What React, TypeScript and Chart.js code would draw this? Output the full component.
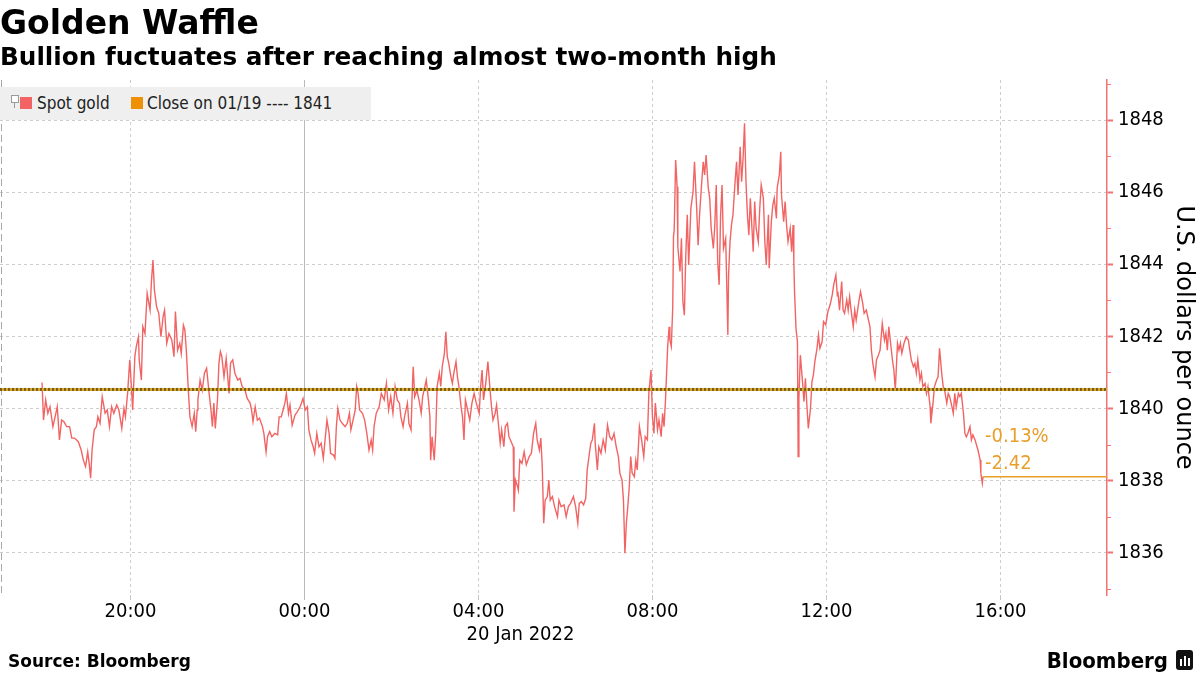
import React, { useEffect, useRef } from 'react';
import { Chart, registerables } from 'chart.js';

Chart.register(...registerables);

const FONT = '"DejaVu Sans Condensed", "DejaVu Sans", sans-serif';

const titleText = 'Golden Waffle';
const subtitleText = 'Bullion fuctuates after reaching almost two-month high';
const sourceText = 'Source: Bloomberg';
const brandText = 'Bloomberg';
const seriesName = 'Spot gold';
const closeDate = '01/19';
const closeValue = 1840.53;
const changeLabels = ['-0.13%', '-2.42'];

// x values: minutes relative to 00:00 on 20 Jan 2022
const xRange = [-420, 1107];
const xTickMinutes = [-240, 0, 240, 480, 720, 960];
const xTickLabels = ['20:00', '00:00', '04:00', '08:00', '12:00', '16:00'];
const dateLabel = '20 Jan 2022';
const dateLabelMinute = 298;

const yRange = [1834.83, 1849.11];
const yTicks = [1836, 1838, 1840, 1842, 1844, 1846, 1848];
const yMinorTicks = [1835, 1837, 1839, 1841, 1843, 1845, 1847, 1849];
const yAxisTitle = 'U.S. dollars per ounce';

// [minute, price]
const spotGold: [number, number][] = [
  [-362, 1840.72], [-360, 1839.68], [-357, 1840.24], [-354, 1839.87], [-351, 1840.05], [-347, 1839.5], [-344, 1839.77], [-341, 1840.05], [-338, 1839.13], [-335, 1839.68],
  [-332, 1839.64], [-328, 1839.5], [-324, 1839.5], [-321, 1839.18], [-317, 1839.18], [-312, 1839.08], [-308, 1838.85], [-305, 1838.57], [-302, 1838.39], [-299, 1838.8],
  [-297, 1838.48], [-295, 1838.07], [-293, 1838.85], [-290, 1839.41], [-287, 1839.5], [-285, 1839.77], [-282, 1839.59], [-279, 1840.33], [-275, 1839.87], [-272, 1839.96],
  [-269, 1839.5], [-266, 1840.05], [-263, 1839.87], [-259, 1840.1], [-256, 1839.96], [-252, 1839.45], [-249, 1840.0], [-247, 1839.77], [-244, 1840.42], [-241, 1841.35],
  [-239, 1840.7], [-237, 1839.96], [-234, 1841.44], [-232, 1841.72], [-229, 1841.99], [-228, 1841.35], [-225, 1840.79], [-223, 1842.27], [-220, 1842.08], [-217, 1843.19],
  [-213, 1842.73], [-211, 1843.56], [-209, 1844.12], [-207, 1843.29], [-204, 1842.82], [-201, 1842.64], [-198, 1841.99], [-195, 1842.55], [-193, 1842.73], [-190, 1841.81],
  [-187, 1842.08], [-183, 1841.9], [-180, 1841.44], [-178, 1842.69], [-175, 1841.62], [-172, 1841.81], [-170, 1841.53], [-167, 1842.31], [-165, 1842.18], [-163, 1841.62],
  [-160, 1840.42], [-158, 1839.77], [-155, 1839.5], [-152, 1839.87], [-150, 1839.36], [-148, 1839.96],
  [-147, 1840.24], [-144, 1840.79], [-141, 1840.51], [-138, 1840.98], [-135, 1841.12], [-132, 1840.51], [-129, 1839.96], [-127, 1839.5], [-125, 1840.15], [-123, 1839.45],
  [-120, 1840.24], [-118, 1841.26], [-116, 1841.58], [-114, 1841.44], [-111, 1840.88], [-108, 1841.39], [-104, 1840.42], [-102, 1841.26], [-99, 1841.35], [-96, 1840.98],
  [-92, 1840.79], [-89, 1840.84], [-86, 1840.61], [-82, 1840.51], [-79, 1840.28], [-75, 1840.15], [-73, 1839.96], [-71, 1839.64], [-68, 1840.05], [-65, 1839.68],
  [-62, 1839.73], [-58, 1839.5], [-56, 1839.31], [-53, 1838.8], [-51, 1839.22], [-48, 1839.36], [-45, 1839.22], [-41, 1839.31], [-37, 1839.27], [-35, 1839.77],
  [-32, 1839.77], [-29, 1840.0], [-27, 1840.15], [-25, 1840.42], [-22, 1839.87], [-20, 1840.1], [-17, 1839.54], [-13, 1839.82], [-10, 1839.91], [-6, 1840.05],
  [-2, 1840.28], [1, 1839.96], [4, 1840.05], [6, 1839.41], [9, 1839.13], [12, 1838.94], [14, 1838.76], [17, 1839.31], [20, 1838.94], [23, 1839.04],
  [26, 1838.62], [28, 1839.04], [31, 1839.68], [34, 1839.31], [36, 1838.76], [40, 1838.71], [42, 1838.62], [44, 1839.5], [46, 1840.0], [49, 1839.68],
  [52, 1839.59], [56, 1839.5], [59, 1839.59], [62, 1839.87], [64, 1839.41], [67, 1839.68], [70, 1839.96], [72, 1840.61], [74, 1840.42],
  [76, 1839.96], [80, 1839.87], [83, 1839.68], [86, 1839.31], [89, 1838.85], [92, 1839.13], [94, 1838.85], [96, 1839.5], [99, 1839.87], [103, 1840.05],
  [106, 1840.42], [110, 1840.24], [113, 1840.7], [116, 1839.96], [119, 1840.33], [122, 1839.87], [125, 1840.61], [128, 1840.24], [131, 1840.15], [133, 1839.77],
  [136, 1839.5], [138, 1839.77], [142, 1840.15], [144, 1839.59], [147, 1839.41], [149, 1840.7], [150, 1841.16], [152, 1840.33], [155, 1840.51], [158, 1840.24],
  [161, 1839.87], [163, 1840.33], [166, 1840.61], [168, 1840.79], [171, 1840.24], [173, 1839.77], [174, 1838.57], [176, 1839.22], [179, 1838.57], [181, 1839.31],
  [183, 1840.61], [186, 1840.98], [188, 1840.61], [190, 1841.16], [193, 1841.53], [195, 1842.13], [197, 1841.44], [199, 1841.26], [202, 1840.88], [204, 1840.7],
  [206, 1840.98], [209, 1841.3], [211, 1840.88], [213, 1840.61], [216, 1840.05], [218, 1839.77], [220, 1839.13], [222, 1840.24], [225, 1839.96], [228, 1839.68],
  [231, 1840.15], [234, 1840.42], [237, 1840.15], [241, 1839.87], [243, 1840.61], [245, 1841.07], [247, 1840.24], [250, 1840.7], [253, 1841.3], [256, 1840.51],
  [258, 1840.05], [260, 1839.68], [263, 1839.87], [265, 1840.1], [267, 1839.68], [270, 1839.04], [272, 1839.41], [275, 1838.94], [277, 1839.5], [280, 1839.59],
  [282, 1839.22], [286, 1839.04], [288, 1838.94], [289, 1837.14], [291, 1838.02], [294, 1837.83],
  [295, 1837.74], [297, 1838.57], [300, 1838.48], [303, 1838.8], [306, 1838.44], [310, 1838.67], [313, 1838.76], [316, 1839.31], [319, 1839.59], [321, 1839.13],
  [324, 1838.85], [326, 1839.18], [328, 1838.39], [330, 1836.82], [332, 1837.46], [335, 1837.56], [337, 1838.02], [339, 1837.46], [342, 1837.56], [345, 1837.28],
  [349, 1837.0], [351, 1837.46], [354, 1837.28], [358, 1837.33], [361, 1837.0], [364, 1837.28], [367, 1837.37], [371, 1837.56], [374, 1837.28], [377, 1836.82],
  [379, 1837.37], [382, 1837.42], [385, 1837.33], [388, 1837.51], [390, 1838.3], [393, 1838.76], [395, 1839.04], [397, 1839.13], [400, 1839.59], [401, 1839.04],
  [404, 1838.3], [406, 1838.94], [409, 1838.76], [412, 1839.13], [415, 1838.85], [418, 1839.54], [421, 1839.22], [424, 1839.13], [427, 1839.31], [430, 1838.94],
  [433, 1838.67], [435, 1838.21], [438, 1838.02], [440, 1837.46], [442, 1835.99], [444, 1836.82], [446, 1837.28], [448, 1837.83], [450, 1838.67], [452, 1838.21],
  [455, 1838.11], [457, 1838.57], [459, 1838.3], [462, 1839.5], [465, 1839.13], [468, 1838.67], [470, 1839.22], [473, 1839.13], [475, 1840.42], [478, 1841.07],
  [480, 1839.77], [482, 1839.31], [484, 1840.15], [487, 1839.41], [489, 1839.68], [492, 1839.22], [494, 1839.87], [496, 1839.5], [498, 1840.24], [501, 1841.72],
  [503, 1842.27], [504, 1841.9], [506, 1841.72], [508, 1842.82], [509, 1844.76], [510, 1844.95], [512, 1846.89], [514, 1846.15], [515, 1844.49],
  [518, 1843.8], [520, 1844.72], [522, 1842.96], [524, 1842.59], [526, 1844.26], [528, 1845.37], [530, 1843.98], [533, 1845.55], [536, 1846.01], [538, 1846.84],
  [541, 1845.55], [543, 1844.53], [545, 1845.37], [548, 1846.29], [550, 1846.84], [552, 1846.48], [554, 1847.03], [557, 1846.11], [559, 1845.83], [561, 1845.0],
  [564, 1844.44], [566, 1845.09], [568, 1846.2], [570, 1844.07], [572, 1843.43], [574, 1845.37], [576, 1846.2], [578, 1844.44], [581, 1844.72], [583, 1842.96],
  [584, 1842.04], [585, 1843.7], [587, 1844.63], [589, 1845.09], [591, 1845.37], [594, 1846.29], [596, 1846.84], [598, 1845.92], [601, 1847.26], [603, 1846.29],
  [605, 1846.94], [607, 1847.91], [609, 1846.29], [611, 1845.37], [613, 1844.81], [615, 1845.83], [617, 1845.09], [619, 1844.35], [621, 1845.74], [623, 1845.0],
  [626, 1844.63], [628, 1845.55], [630, 1846.2], [633, 1845.83], [635, 1844.63], [637, 1843.98], [640, 1845.37], [641, 1843.89], [644, 1845.18], [646, 1845.64],
  [648, 1845.83], [651, 1845.27], [652, 1846.11], [655, 1846.48], [657, 1847.12], [658, 1845.92], [661, 1845.18], [663, 1845.74], [665, 1845.09], [667, 1844.63],
  [670, 1845.0], [672, 1844.35], [674, 1845.09], [675, 1844.07], [676, 1843.24], [678, 1842.22], [680, 1841.85], [681, 1838.67], [682, 1840.28], [684, 1841.48],
  [687, 1840.74], [689, 1840.19], [691, 1840.84], [693, 1840.1], [695, 1839.45], [698, 1840.0], [700, 1840.74], [702, 1840.93], [704, 1841.3], [707, 1841.67],
  [709, 1842.04], [711, 1841.67], [714, 1841.85], [716, 1842.41], [719, 1842.32], [722, 1842.69], [725, 1842.87], [728, 1843.15], [730, 1843.43], [733, 1843.7],
  [735, 1843.15],
  [736, 1843.19], [738, 1842.73], [741, 1843.52], [743, 1842.73], [745, 1842.64], [748, 1843.01], [750, 1842.73], [752, 1843.1], [754, 1842.73], [757, 1842.27],
  [759, 1842.73], [761, 1842.45], [765, 1843.01], [767, 1843.24], [770, 1842.92], [772, 1842.64], [775, 1842.73], [778, 1842.45], [780, 1842.27], [782, 1841.62],
  [784, 1841.25], [787, 1840.88], [789, 1841.35], [791, 1841.44], [794, 1841.62], [797, 1842.36], [800, 1841.9], [802, 1842.09], [804, 1841.62], [806, 1842.27],
  [809, 1841.72], [811, 1841.35], [813, 1841.07], [815, 1840.51], [818, 1841.81], [820, 1841.62], [822, 1841.81], [824, 1841.53], [827, 1841.81], [830, 1841.99],
  [833, 1841.9], [835, 1841.62], [837, 1841.35], [840, 1841.16], [842, 1841.25], [844, 1840.98], [846, 1841.35], [849, 1840.79], [851, 1840.98], [853, 1840.61],
  [856, 1840.7], [858, 1840.42], [860, 1840.61], [863, 1840.05], [864, 1839.59], [867, 1840.15], [869, 1840.61], [872, 1840.79], [874, 1840.88], [876, 1841.67],
  [879, 1840.98], [881, 1840.61], [883, 1840.51], [886, 1840.15], [888, 1840.42], [890, 1840.33], [892, 1840.15], [895, 1839.87], [897, 1840.42], [899, 1840.05],
  [902, 1840.42], [904, 1840.33], [906, 1840.42], [909, 1839.87], [911, 1839.31], [913, 1839.22], [915, 1839.31], [918, 1839.5], [920, 1839.13], [922, 1839.27],
  [925, 1839.13], [927, 1838.99], [929, 1838.85], [932, 1838.57], [933, 1838.21], [935, 1837.93], [936, 1838.11],
];

const RED = '#f26464';
const AXIS_RED = '#f07272';
const ORANGE = '#e99f2b';

export default function App() {
  const canvasRef = useRef<HTMLCanvasElement>(null);

  useEffect(() => {
    document.body.style.margin = '0';
    const canvas = canvasRef.current;
    if (!canvas) return;
    const last = spotGold[spotGold.length - 1];

    const overlay = {
      id: 'overlay',
      beforeDatasetsDraw(chart: any) {
        const { ctx, chartArea: a, scales } = chart;
        const x = scales.x;
        ctx.save();
        ctx.lineWidth = 1;
        ctx.strokeStyle = '#a8a8a8';
        ctx.setLineDash([7, 4]);
        ctx.beginPath();
        ctx.moveTo(a.left + 1.5, a.top);
        ctx.lineTo(a.left + 1.5, a.bottom);
        ctx.stroke();
        ctx.setLineDash([]);
        ctx.strokeStyle = '#b9b9b9';
        const mx = Math.round(x.getPixelForValue(0)) + 0.5;
        ctx.beginPath();
        ctx.moveTo(mx, a.top);
        ctx.lineTo(mx, a.bottom + 5);
        ctx.stroke();
        ctx.restore();
      },
      afterDatasetsDraw(chart: any) {
        const { ctx, chartArea: a, scales } = chart;
        const x = scales.x;
        const y = scales.y;
        ctx.save();
        const lx = x.getPixelForValue(last[0]);
        const ly = y.getPixelForValue(last[1]);
        ctx.font = `20px ${FONT}`;
        ctx.fillStyle = ORANGE;
        ctx.textAlign = 'left';
        ctx.textBaseline = 'middle';
        ctx.fillText(changeLabels[0], lx + 2, ly - 40);
        ctx.fillText(changeLabels[1], lx + 2, ly - 13);

        ctx.strokeStyle = AXIS_RED;
        ctx.lineWidth = 1;
        ctx.beginPath();
        yMinorTicks.forEach((v) => {
          const py = Math.round(y.getPixelForValue(v)) + 0.5;
          ctx.moveTo(a.right, py);
          ctx.lineTo(a.right + 4, py);
        });
        ctx.stroke();

        ctx.fillStyle = '#000';
        ctx.textAlign = 'center';
        ctx.font = `20px ${FONT}`;
        ctx.fillText(dateLabel, x.getPixelForValue(dateLabelMinute), a.bottom + 40);
        ctx.restore();
      },
    };

    const chart = new Chart(canvas, {
      type: 'line',
      data: {
        datasets: [
          {
            label: 'close-dots',
            data: [
              { x: xRange[0], y: closeValue },
              { x: xRange[1], y: closeValue },
            ],
            borderColor: '#7d5d10',
            borderWidth: 3,
            borderDash: [2, 2],
            pointRadius: 0,
          },
          {
            label: 'close-base',
            data: [
              { x: xRange[0], y: closeValue },
              { x: xRange[1], y: closeValue },
            ],
            borderColor: '#d9a830',
            borderWidth: 3,
            pointRadius: 0,
          },
          {
            label: 'last',
            data: [
              { x: last[0], y: last[1] },
              { x: xRange[1], y: last[1] },
            ],
            borderColor: ORANGE,
            borderWidth: 1.5,
            pointRadius: 0,
          },
          {
            label: seriesName,
            data: spotGold.map(([t, v]) => ({ x: t, y: v })),
            borderColor: RED,
            borderWidth: 1.4,
            pointRadius: 0,
            tension: 0,
          },
        ],
      },
      options: {
        animation: false,
        responsive: false,
        devicePixelRatio: 1,
        layout: { padding: { top: 80, bottom: 50, left: 0, right: 0 } },
        plugins: {
          legend: { display: false },
          tooltip: { enabled: false },
        },
        scales: {
          x: {
            type: 'linear',
            min: xRange[0],
            max: xRange[1],
            afterBuildTicks: (scale: any) => {
              scale.ticks = xTickMinutes.map((v) => ({ value: v }));
            },
            afterFit: (scale: any) => {
              scale.height = 30;
            },
            ticks: {
              autoSkip: false,
              maxRotation: 0,
              padding: 0,
              color: '#000',
              font: { family: FONT, size: 20 },
              callback: (value: any) => {
                const i = xTickMinutes.indexOf(Number(value));
                return i >= 0 ? xTickLabels[i] : '';
              },
            },
            grid: {
              color: '#cdcdcd',
              lineWidth: 1,
              tickLength: 5,
              tickColor: '#c4c4c4',
            },
            border: { display: false, dash: [3, 3] },
          },
          y: {
            type: 'linear',
            position: 'right',
            min: yRange[0],
            max: yRange[1],
            afterBuildTicks: (scale: any) => {
              scale.ticks = yTicks.map((v) => ({ value: v }));
            },
            afterFit: (scale: any) => {
              scale.width = 93;
            },
            ticks: {
              padding: 5,
              color: '#000',
              font: { family: FONT, size: 20 },
              callback: (value: any) => String(value),
            },
            grid: {
              color: '#cdcdcd',
              lineWidth: 1,
              tickLength: 6,
              tickWidth: 2,
              tickColor: AXIS_RED,
              tickBorderDash: [],
            },
            border: { display: true, color: AXIS_RED, width: 1.5, dash: [3, 3] },
            title: {
              display: true,
              text: yAxisTitle,
              color: '#000',
              font: { family: '"DejaVu Sans", sans-serif', size: 24 },
              padding: { top: 2, bottom: 0 },
            },
          },
        },
      },
      plugins: [overlay],
    } as any);

    return () => chart.destroy();
  }, []);

  const legendFont = `17px ${FONT}`;

  return (
    <div style={{ position: 'relative', width: 1200, height: 675, overflow: 'hidden', background: '#fff' }}>
      <canvas ref={canvasRef} width={1200} height={675} style={{ position: 'absolute', left: 0, top: 0 }} />
      <div
        style={{
          position: 'absolute', left: 0, top: 6, font: `bold 33px "DejaVu Sans", sans-serif`,
          lineHeight: 1, whiteSpace: 'nowrap', color: '#000',
        }}
      >
        {titleText}
      </div>
      <div
        style={{
          position: 'absolute', left: 0, top: 45, font: `bold 24.7px "DejaVu Sans", sans-serif`,
          lineHeight: 1, whiteSpace: 'nowrap', color: '#000',
        }}
      >
        {subtitleText}
      </div>
      <div style={{ position: 'absolute', left: 0, top: 87, width: 371, height: 33, background: '#efefef' }}>
        <div style={{ position: 'absolute', left: 11, top: 8, width: 6, height: 6, border: '1px solid #9a9a9a', background: '#fff' }} />
        <div style={{ position: 'absolute', left: 14, top: 16, width: 1, height: 5, background: '#9a9a9a' }} />
        <div style={{ position: 'absolute', left: 20, top: 10, width: 12, height: 12, background: RED }} />
        <span style={{ position: 'absolute', left: 37, top: 0, font: legendFont, lineHeight: '33px', color: '#222', whiteSpace: 'nowrap' }}>
          {seriesName}
        </span>
        <div style={{ position: 'absolute', left: 131, top: 10, width: 12, height: 12, background: '#ef9106' }} />
        <span style={{ position: 'absolute', left: 147, top: 0, font: legendFont, lineHeight: '33px', color: '#222', whiteSpace: 'nowrap' }}>
          {`Close on ${closeDate} ---- ${Math.round(closeValue)}`}
        </span>
      </div>
      <div
        style={{
          position: 'absolute', left: 8, top: 653, font: `bold 17px "DejaVu Sans", sans-serif`,
          lineHeight: 1, whiteSpace: 'nowrap', color: '#000',
        }}
      >
        {sourceText}
      </div>
      <div
        style={{
          position: 'absolute', right: 32, top: 650, font: `bold 22px ${FONT}`,
          lineHeight: 1, whiteSpace: 'nowrap', color: '#000',
        }}
      >
        {brandText}
      </div>
      <div style={{ position: 'absolute', left: 1176, top: 650, width: 17, height: 20, background: '#111', borderRadius: 3 }}>
        <div style={{ position: 'absolute', left: 4, top: 9, width: 2, height: 7, background: '#fff' }} />
        <div style={{ position: 'absolute', left: 8, top: 6, width: 2, height: 10, background: '#fff' }} />
        <div style={{ position: 'absolute', left: 12, top: 8, width: 2, height: 8, background: '#fff' }} />
      </div>
    </div>
  );
}
